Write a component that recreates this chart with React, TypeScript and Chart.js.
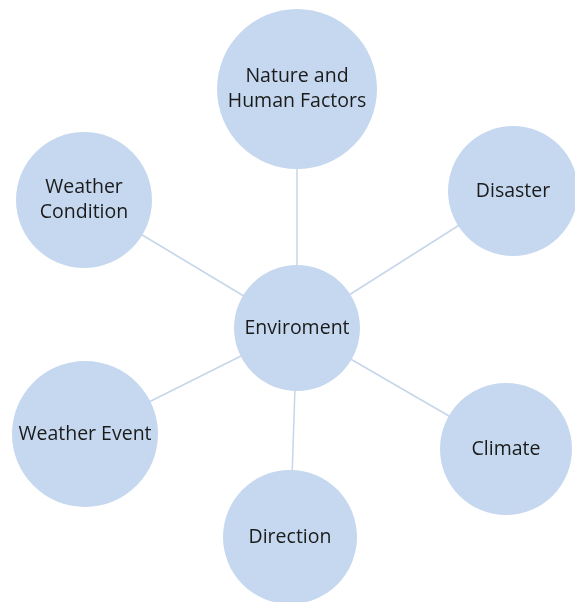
import React, { useEffect, useRef } from "react";
import { Chart, registerables } from "chart.js";

Chart.register(...registerables);

const nodeLabels: string[][] = [
  ["Enviroment"],
  ["Nature and", "Human Factors"],
  ["Disaster"],
  ["Climate"],
  ["Direction"],
  ["Weather Event"],
  ["Weather", "Condition"],
];
const nodeX = [297, 297, 513, 506, 290, 85, 84];
const nodeY = [328, 89, 191, 449, 537, 434, 200];
const nodeR = [63, 80, 65, 66, 67, 73, 68];
const edges: [number, number][] = [
  [0, 1],
  [0, 2],
  [0, 3],
  [0, 4],
  [0, 5],
  [0, 6],
];

const FILL = "#c5d8ef";
const LINE = "#c6d6ea";

const labelPlugin = {
  id: "nodeLabels",
  afterDatasetsDraw(chart: any) {
    const ctx = chart.ctx;
    const meta = chart.getDatasetMeta(chart.data.datasets.length - 1);
    ctx.save();
    ctx.fillStyle = "#1b1b1b";
    ctx.font = "19.5px 'Open Sans', sans-serif";
    ctx.textAlign = "center";
    ctx.textBaseline = "middle";
    const lh = 25;
    meta.data.forEach((el: any, i: number) => {
      const lines = nodeLabels[i];
      const start = el.y - ((lines.length - 1) * lh) / 2;
      lines.forEach((t, k) => ctx.fillText(t, el.x, start + k * lh));
    });
    ctx.restore();
  },
};

export default function App() {
  const ref = useRef<HTMLCanvasElement>(null);
  useEffect(() => {
    document.body.style.margin = "0";
    const edgeSets = edges.map(([a, b]) => ({
      type: "line" as const,
      data: [
        { x: nodeX[a], y: nodeY[a] },
        { x: nodeX[b], y: nodeY[b] },
      ],
      borderColor: LINE,
      borderWidth: 1.5,
      pointRadius: 0,
      fill: false,
      order: 2,
    }));
    const chart = new Chart(ref.current!, {
      type: "bubble",
      data: {
        datasets: [
          ...edgeSets,
          {
            type: "bubble",
            data: nodeX.map((x, i) => ({ x, y: nodeY[i], r: nodeR[i] })),
            backgroundColor: FILL,
            borderColor: FILL,
            borderWidth: 0,
            hoverRadius: 0,
            clip: false,
            order: 1,
          } as any,
        ],
      },
      options: {
        animation: false,
        responsive: false,
        maintainAspectRatio: false,
        layout: { padding: 0, autoPadding: false },
        plugins: { legend: { display: false }, tooltip: { enabled: false } },
        scales: {
          x: { type: "linear", min: 0, max: 575, display: false },
          y: { type: "linear", min: 0, max: 602, reverse: true, display: false },
        },
        events: [],
      } as any,
      plugins: [labelPlugin],
    } as any);
    return () => chart.destroy();
  }, []);
  return (
    <div style={{ width: 575, height: 602, background: "#fff" }}>
      <canvas ref={ref} width={575} height={602} />
    </div>
  );
}
